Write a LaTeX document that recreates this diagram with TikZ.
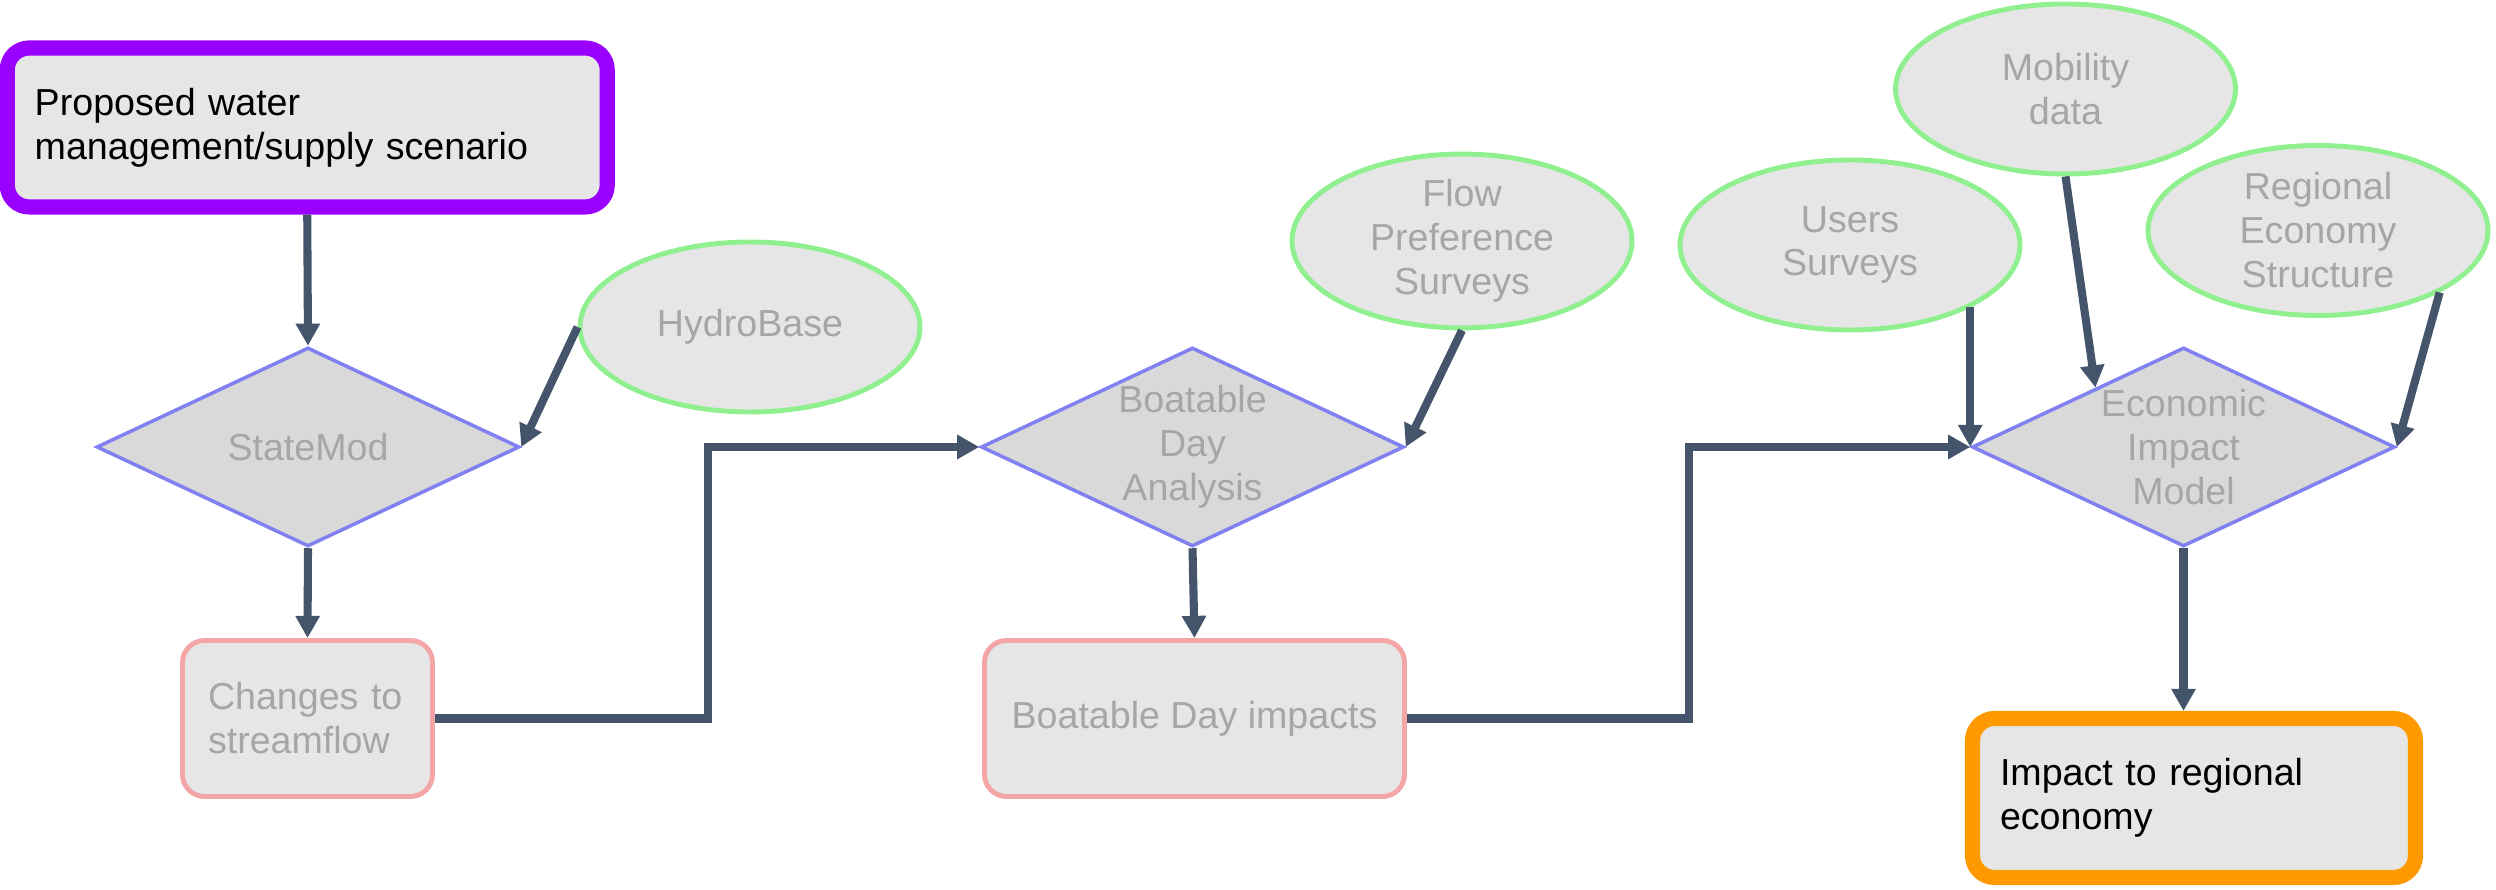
\documentclass[tikz,border=0pt]{standalone}
\usepackage{fontspec}
\setmainfont{Liberation Sans}
\usetikzlibrary{shapes.geometric, arrows.meta}

\definecolor{linegray}{RGB}{68,84,106}
\definecolor{diablue}{RGB}{128,128,240}
\definecolor{diafill}{RGB}{217,217,217}
\definecolor{boxfill}{RGB}{230,230,230}
\definecolor{srcgreen}{RGB}{144,240,144}
\definecolor{respink}{RGB}{244,166,166}
\definecolor{textgray}{RGB}{166,166,166}
\definecolor{propviolet}{RGB}{153,0,255}
\definecolor{imporange}{RGB}{255,153,0}

\begin{document}
\begin{tikzpicture}[
        every node/.style={font=\fontsize{10.7pt}{12.5pt}\selectfont},
        flow/.style={line width=2.3pt, color=linegray, -{Triangle[length=6.3pt,width=6.6pt]}},
        decision/.style={diamond, draw=diablue, line width=1pt, fill=diafill, text=textgray,
            align=center, inner sep=0pt, aspect=2.13, minimum width=4.23cm, minimum height=1.99cm},
        source/.style={ellipse, draw=srcgreen, line width=1.4pt, fill=boxfill, text=textgray,
            align=center, inner sep=0pt, minimum width=3.40cm, minimum height=1.70cm},
        result/.style={rectangle, rounded corners=0.22cm, draw=respink, line width=1.4pt, fill=boxfill,
            text=textgray, align=left, inner xsep=0.255cm, minimum height=1.56cm},
        endpoint/.style={rectangle, rounded corners=0.22cm, line width=4.3pt, fill=boxfill,
            text=black, align=left, inner xsep=0.275cm, minimum height=1.59cm}
    ]
        \useasboundingbox (0, 0) rectangle (24.96, 8.90);

        \node[endpoint, draw=propviolet, text width=5.45cm] (scenario) at (3.0725, 7.625)
            {Proposed water\\management/supply scenario};

        \node[decision] (statemod) at (3.08, 4.43) {StateMod};
        \node[source] (hydrobase) at (7.50, 5.63) {HydroBase};
        \node[result, text width=1.99cm] (streamflow) at (3.075, 1.715) {Changes to\\streamflow};

        \node[decision] (boatable) at (11.925, 4.43) {Boatable\\Day\\Analysis};
        \node[source] (preference) at (14.62, 6.49) {Flow\\Preference\\Surveys};
        \node[result, minimum width=4.20cm] (boatdays) at (11.945, 1.715) {Boatable Day impacts};

        \node[decision] (econmodel) at (21.835, 4.43) {Economic\\Impact\\Model};
        \node[source] (users) at (18.50, 6.45) {Users\\Surveys};
        \node[source] (mobility) at (20.655, 8.01) {Mobility\\data};
        \node[source] (regional) at (23.18, 6.595) {Regional\\Economy\\Structure};

        \node[endpoint, draw=imporange, text width=3.88cm] (impact) at (21.94, 0.92)
            {Impact to regional\\economy};

        \coordinate (turnA) at (7.08, 4.43);
        \coordinate (turnB) at (16.89, 4.43);

        \draw[flow] (scenario.south) -- (statemod.north);
        \draw[flow] (hydrobase.west) -- (statemod.east);
        \draw[flow] (statemod.south) -- (streamflow.north);
        \draw[flow] (streamflow.east) -| (turnA) -- (boatable.west);

        \draw[flow] (preference.south) -- (boatable.east);
        \draw[flow] (boatable.south) -- (boatdays.north);
        \draw[flow] (boatdays.east) -| (turnB) -- (econmodel.west);

        \draw[flow] (econmodel.west |- users.-27) -- (econmodel.west);
        \draw[flow] (mobility.south) -- (econmodel.146);
        \draw[flow] (regional.-27) -- (econmodel.east);
        \draw[flow] (econmodel.south) -- (econmodel.south |- impact.north);
    \end{tikzpicture}
\end{document}
